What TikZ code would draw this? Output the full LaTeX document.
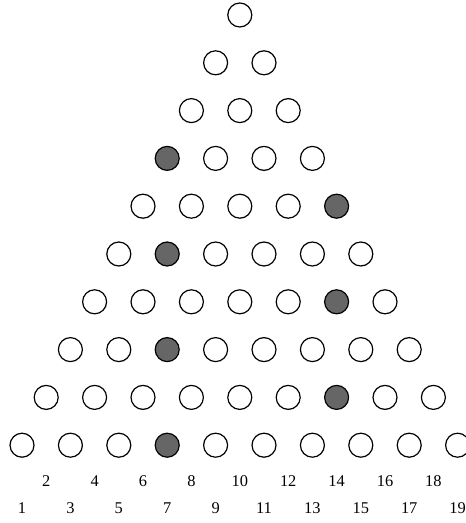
\documentclass[tikz,border=0pt]{standalone}
\usepackage{fontspec}
\setmainfont{Liberation Serif}
\usetikzlibrary{positioning}

\definecolor{pegfill}{HTML}{666666}

\begin{document}
\begin{tikzpicture}[
		x=12.1pt, y=-23.9pt,
		peg/.style={draw, circle, line width=0.6pt, minimum size=12pt, inner sep=0pt},
		hole/.style={peg, fill=pegfill},
		num/.style={font=\fontsize{8.2}{10}\selectfont, inner sep=0pt, text height=5.54pt, text depth=0pt}
		]
		
		\useasboundingbox (1.1pt,-16.4pt) rectangle (233.6pt,-277.9pt);
		
		% =========================
		% Triangle of pegs (row / filled position)
		% =========================
		\foreach \r/\f in {1/0,2/0,3/0,4/7,5/14,6/7,7/14,8/7,9/14,10/7} {
			\foreach \i in {1,...,\r} {
				\pgfmathtruncatemacro{\k}{9-\r+2*\i}
				\ifnum\k=\f\relax \def\sty{hole}\else\def\sty{peg}\fi
				\node[\sty] (c-\r-\k) at (\k,\r) {};
			}
		}
		
		% =========================
		% Column numbers
		% =========================
		\foreach \k in {1,...,19} {
			\ifodd\k
				\node[num] (l-\k) at (\k,11.31) {\k};
			\else
				\node[num] (l-\k) at (\k,10.74) {\k};
			\fi
		}
		
	\end{tikzpicture}
\end{document}
